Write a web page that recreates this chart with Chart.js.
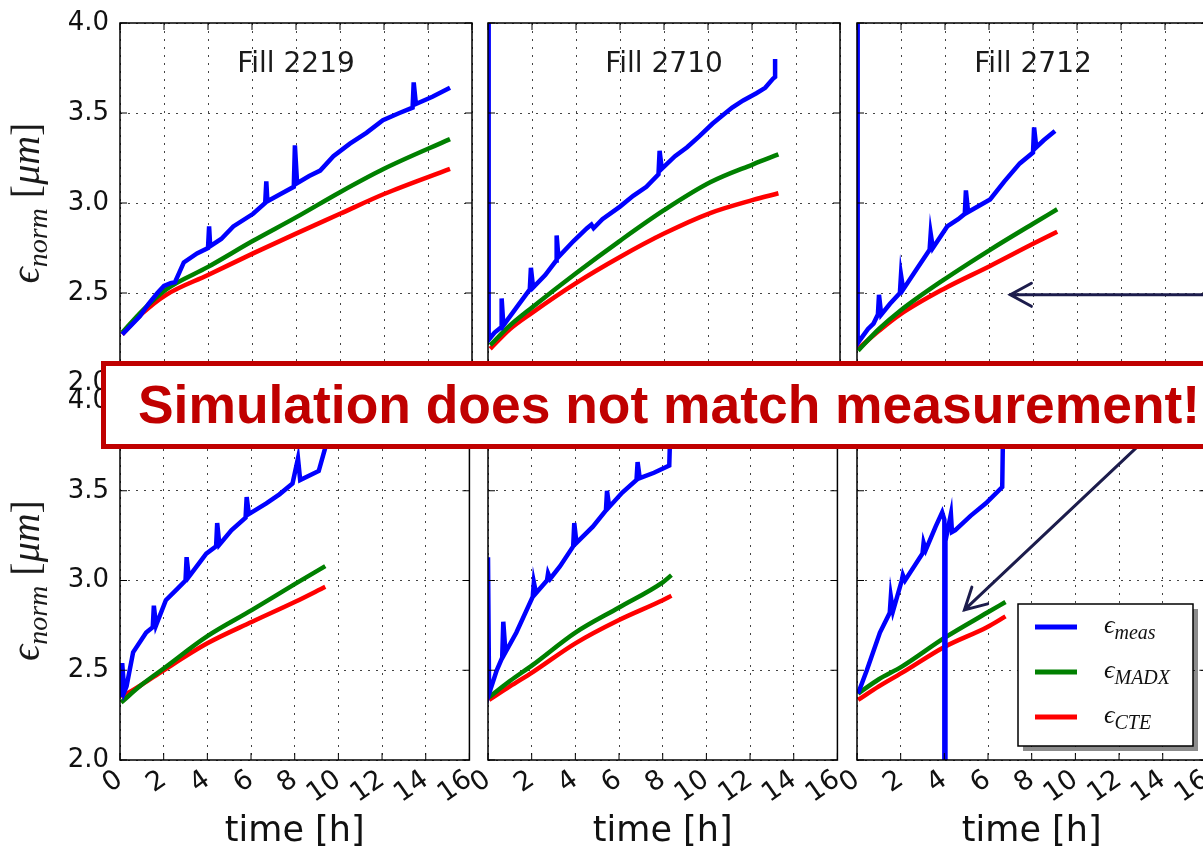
<!DOCTYPE html>
<html lang="en">
<head>
    <meta charset="UTF-8">
    <title>Emittance growth: measurement vs simulation</title>
    <script src="https://cdn.jsdelivr.net/npm/chart.js"></script>
    <style>
        body { margin: 0; background: #fff; }
        #wrap { position: relative; width: 1203px; height: 849px; overflow: hidden; background: #fff; }
        #wrap canvas { position: absolute; }
        #callout {
            position: absolute; left: 101px; top: 361px; width: 1150px; height: 78px;
            border: 5px solid #c00000; background: #fff; color: #c00000;
            font: bold 53.4px "Liberation Sans", Arial, sans-serif; line-height: 78px;
            padding-left: 32px; white-space: nowrap; z-index: 5;
        }
    </style>
</head>
<body>
<div id="wrap">
    <div id="callout">Simulation does not match measurement!</div>
</div>

<script>
    const fills = ['Fill 2219', 'Fill 2710', 'Fill 2712'];
    const seriesLabels = ['ϵ_meas', 'ϵ_MADX', 'ϵ_CTE'];
    const seriesColors = ['#0000ff', '#008000', '#ff0000'];
    const xTitle = 'time [h]';

    // top row  [time h, emittance um]
    const meas2219 = [[0.1,2.27],[0.5,2.32],[0.9,2.37],[1.3,2.44],[1.7,2.5],[2.0,2.54],[2.3,2.555],[2.5,2.56],[2.9,2.67],[3.5,2.72],[4.0,2.75],[4.05,2.87],[4.1,2.76],[4.6,2.8],[5.15,2.87],[6.05,2.94],[6.6,3.0],[6.65,3.12],[6.7,3.01],[7.3,3.05],[7.9,3.09],[7.95,3.32],[8.05,3.11],[8.6,3.15],[9.1,3.18],[9.7,3.26],[10.45,3.33],[11.2,3.39],[11.95,3.46],[12.7,3.5],[13.3,3.53],[13.35,3.67],[13.45,3.55],[14.2,3.59],[15.0,3.64]];
    const madx2219 = [[0.1,2.28],[1,2.4],[2.1,2.52],[4,2.645],[6.05,2.79],[8,2.92],[10,3.06],[12,3.19],[15,3.355]];
    const cte2219  = [[0.1,2.27],[1,2.385],[2.1,2.49],[4,2.6],[6.05,2.72],[8,2.83],[10,2.94],[12,3.05],[15,3.19]];

    const meas2710 = [[0,4.5],[0.03,2.24],[0.3,2.28],[0.6,2.31],[0.62,2.47],[0.7,2.32],[1.3,2.42],[1.9,2.52],[1.95,2.64],[2.05,2.53],[2.6,2.6],[3.1,2.68],[3.12,2.82],[3.2,2.7],[3.9,2.79],[4.5,2.86],[4.7,2.88],[4.8,2.86],[5.2,2.91],[6.0,2.98],[6.6,3.04],[7.2,3.09],[7.75,3.16],[7.8,3.29],[7.9,3.19],[8.5,3.26],[9.05,3.31],[9.6,3.37],[10.2,3.44],[10.6,3.48],[11.1,3.53],[11.6,3.57],[12.2,3.61],[12.6,3.64],[12.95,3.69],[13.05,3.7],[13.05,3.8]];
    const madx2710 = [[0.1,2.21],[1,2.32],[2,2.42],[4,2.61],[6,2.79],[8,2.96],[10.1,3.115],[12.05,3.215],[13.2,3.27]];
    const cte2710  = [[0.1,2.19],[1,2.3],[2,2.39],[4,2.555],[6,2.7],[8,2.83],[10.1,2.944],[12.05,3.017],[13.2,3.054]];

    const meas2712 = [[0,4.5],[0.03,2.22],[0.14,2.24],[0.5,2.3],[0.75,2.33],[0.95,2.38],[1.0,2.49],[1.1,2.38],[1.5,2.44],[1.95,2.5],[2.0,2.6],[2.1,2.52],[2.7,2.63],[3.3,2.74],[3.35,2.83],[3.45,2.75],[4.1,2.87],[4.6,2.91],[4.9,2.94],[4.95,3.07],[5.05,2.95],[6.05,3.02],[6.7,3.12],[7.4,3.22],[8.0,3.28],[8.05,3.42],[8.15,3.31],[8.5,3.35],[9.0,3.4]];
    const madx2712 = [[0.05,2.18],[1,2.3],[1.95,2.4],[3.9,2.57],[6.05,2.74],[8,2.885],[9.1,2.965]];
    const cte2712  = [[0.05,2.19],[1,2.29],[1.95,2.38],[3.9,2.52],[6.05,2.65],[8,2.773],[9.1,2.84]];

    // bottom row
    const meas2219b = [[0.05,2.35],[0.1,2.54],[0.2,2.38],[0.3,2.41],[0.6,2.6],[1.2,2.71],[1.5,2.74],[1.55,2.86],[1.65,2.75],[2.1,2.89],[2.6,2.95],[3.0,3.0],[3.05,3.13],[3.15,3.02],[3.95,3.15],[4.4,3.19],[4.45,3.32],[4.55,3.2],[5.1,3.28],[5.75,3.35],[5.8,3.465],[5.9,3.37],[6.7,3.43],[7.3,3.48],[7.9,3.54],[8.15,3.68],[8.25,3.56],[9.1,3.61],[9.4,3.74],[9.6,3.9]];
    const madx2219b = [[0.05,2.32],[1,2.42],[2,2.51],[4,2.69],[6.05,2.836],[8,2.98],[9.4,3.08]];
    const cte2219b  = [[0.05,2.35],[1,2.42],[2,2.5],[4,2.65],[6.05,2.77],[8,2.88],[9.4,2.965]];

    const meas2710b = [[0,3.13],[0.05,2.37],[0.4,2.5],[0.65,2.57],[0.7,2.77],[0.8,2.6],[1.3,2.71],[2.05,2.91],[2.1,2.99],[2.2,2.93],[2.7,3.0],[2.75,3.04],[2.85,3.01],[3.3,3.08],[3.9,3.19],[3.95,3.32],[4.05,3.21],[4.8,3.3],[5.4,3.39],[5.45,3.5],[5.55,3.41],[6.15,3.49],[6.8,3.56],[6.85,3.66],[6.95,3.57],[7.6,3.6],[8.3,3.64],[8.35,3.85]];
    const madx2710b = [[0.05,2.35],[1,2.44],[2.05,2.53],[4,2.71],[6,2.85],[8,2.99],[8.4,3.03]];
    const cte2710b  = [[0.05,2.335],[1,2.41],[2.05,2.49],[4,2.65],[6,2.78],[8,2.89],[8.4,2.915]];

    const meas2712b = [[0.05,2.37],[0.45,2.5],[1.05,2.71],[1.5,2.82],[1.55,2.91],[1.65,2.83],[2.05,3.0],[2.1,3.03],[2.2,3.0],[3.0,3.15],[3.05,3.21],[3.15,3.17],[3.6,3.3],[3.9,3.38],[4.0,3.34],[4.0,1.9],[4.05,1.9],[4.05,3.22],[4.3,3.37],[4.35,3.27],[4.5,3.28],[5.2,3.36],[5.9,3.43],[6.65,3.52],[6.7,3.95]];
    const madx2712b = [[0.05,2.37],[1,2.45],[2.05,2.52],[4,2.68],[5.95,2.82],[6.8,2.88]];
    const cte2712b  = [[0.05,2.335],[1,2.41],[2.05,2.485],[4,2.63],[5.95,2.74],[6.8,2.8]];

    // annotation arrows, in data units of the right-hand panels
    const arrowTop = { from: [16.5, 2.49], to: [6.97, 2.49] };
    const arrowBottom = { from: [14.97, 3.99], to: [4.92, 2.836] };

    const panels = [
        { row: 0, col: 0, title: fills[0], data: [meas2219, madx2219, cte2219] },
        { row: 0, col: 1, title: fills[1], data: [meas2710, madx2710, cte2710] },
        { row: 0, col: 2, title: fills[2], data: [meas2712, madx2712, cte2712], arrow: arrowTop },
        { row: 1, col: 0, data: [meas2219b, madx2219b, cte2219b] },
        { row: 1, col: 1, data: [meas2710b, madx2710b, cte2710b] },
        { row: 1, col: 2, data: [meas2712b, madx2712b, cte2712b], arrow: arrowBottom, legend: true }
    ];

    const colLeft = [120, 488, 857];
    const rowTop = [23, 401];
    const plotW = 352;
    const plotH = [360, 359];
    const sans = '"DejaVu Sans", sans-serif';
    const serif = '"Liberation Serif", "DejaVu Serif", serif';

    // draws text with a subscript part, e.g. ϵ_norm
    function drawMath(ctx, parts, x, y, align) {
        let total = 0;
        parts.forEach(p => { ctx.font = p.font; p.w = ctx.measureText(p.text).width; total += p.w; });
        let cx = align === 'center' ? x - total / 2 : x;
        ctx.textBaseline = 'alphabetic';
        ctx.textAlign = 'left';
        parts.forEach(p => {
            ctx.font = p.font;
            ctx.fillText(p.text, cx, y + (p.dy || 0));
            cx += p.w;
        });
    }

    function subParts(label, big, small, dy) {
        const [main, sub] = label.split('_');
        return [
            { text: main, font: 'italic ' + big + 'px ' + serif },
            { text: sub, font: 'italic ' + small + 'px ' + serif, dy: dy }
        ];
    }

    const panelPlugin = {
        id: 'panelDeco',
        afterDatasetsDraw(chart, args, opts) {
            const ctx = chart.ctx;
            const a = chart.chartArea;
            const xs = chart.scales.x, ys = chart.scales.y;
            ctx.save();
            // frame with inward ticks
            ctx.strokeStyle = '#000';
            ctx.lineWidth = 1.5;
            ctx.strokeRect(a.left, a.top, a.right - a.left, a.bottom - a.top);
            ctx.lineWidth = 1;
            ctx.beginPath();
            xs.ticks.forEach(t => {
                const px = xs.getPixelForValue(t.value);
                ctx.moveTo(px, a.bottom); ctx.lineTo(px, a.bottom - 7);
                ctx.moveTo(px, a.top); ctx.lineTo(px, a.top + 7);
            });
            ys.ticks.forEach(t => {
                const py = ys.getPixelForValue(t.value);
                ctx.moveTo(a.left, py); ctx.lineTo(a.left + 7, py);
                ctx.moveTo(a.right, py); ctx.lineTo(a.right - 7, py);
            });
            ctx.stroke();

            const p = opts.panel;
            ctx.fillStyle = '#1a1a1a';
            if (p.title) {
                ctx.font = '28px ' + sans;
                ctx.textAlign = 'center';
                ctx.textBaseline = 'middle';
                ctx.fillText(p.title, (a.left + a.right) / 2, ys.getPixelForValue(3.77));
            }
            if (p.col === 0) {
                ctx.save();
                ctx.translate(39, (a.top + a.bottom) / 2);
                ctx.rotate(-Math.PI / 2);
                drawMath(ctx, [
                    { text: 'ϵ', font: 'italic 40px ' + serif },
                    { text: 'norm', font: 'italic 28px ' + serif, dy: 8 },
                    { text: ' [', font: '40px ' + serif },
                    { text: 'μm', font: 'italic 40px ' + serif },
                    { text: ']', font: '40px ' + serif }
                ], 0, 0, 'center');
                ctx.restore();
            }
            if (p.arrow) {
                const x1 = xs.getPixelForValue(p.arrow.from[0]), y1 = ys.getPixelForValue(p.arrow.from[1]);
                const x2 = xs.getPixelForValue(p.arrow.to[0]), y2 = ys.getPixelForValue(p.arrow.to[1]);
                const ang = Math.atan2(y1 - y2, x1 - x2);
                ctx.strokeStyle = '#1c1c4c';
                ctx.lineWidth = 3;
                ctx.lineCap = 'round';
                ctx.beginPath();
                ctx.moveTo(x1, y1); ctx.lineTo(x2, y2);
                ctx.moveTo(x2 + 24 * Math.cos(ang + 0.5), y2 + 24 * Math.sin(ang + 0.5));
                ctx.lineTo(x2, y2);
                ctx.lineTo(x2 + 24 * Math.cos(ang - 0.5), y2 + 24 * Math.sin(ang - 0.5));
                ctx.stroke();
            }
            if (p.legend) {
                const lx = a.left + 161, ly = a.top + 203, lw = 175, lh = 142;
                ctx.fillStyle = 'rgba(0,0,0,0.45)';
                ctx.fillRect(lx + 5, ly + 5, lw, lh);
                ctx.fillStyle = '#fff';
                ctx.fillRect(lx, ly, lw, lh);
                ctx.strokeStyle = '#000';
                ctx.lineWidth = 1.5;
                ctx.strokeRect(lx, ly, lw, lh);
                chart.data.datasets.forEach((ds, k) => {
                    const yy = ly + 23 + k * 45;
                    ctx.strokeStyle = ds.borderColor;
                    ctx.lineWidth = 5;
                    ctx.lineCap = 'butt';
                    ctx.beginPath();
                    ctx.moveTo(lx + 17, yy); ctx.lineTo(lx + 59, yy);
                    ctx.stroke();
                    ctx.fillStyle = '#111';
                    drawMath(ctx, subParts(ds.label, 26, 20, 6), lx + 86, yy + 6, 'left');
                });
            }
            ctx.restore();
        }
    };

    const wrap = document.getElementById('wrap');
    const callout = document.getElementById('callout');

    panels.forEach(p => {
        const padL = p.col === 0 ? 120 : 40;
        const padR = 20;
        const padT = p.row === 0 ? 23 : 24;
        const padB = p.row === 0 ? 24 : 849 - (rowTop[1] + plotH[1]);
        const cv = document.createElement('canvas');
        cv.width = padL + plotW + padR;
        cv.height = padT + plotH[p.row] + padB;
        cv.style.left = (colLeft[p.col] - padL) + 'px';
        cv.style.top = (rowTop[p.row] - padT) + 'px';
        wrap.insertBefore(cv, callout);

        new Chart(cv, {
            type: 'line',
            data: {
                datasets: p.data.map((pts, k) => ({
                    label: seriesLabels[k],
                    data: pts.map(([t, e]) => ({ x: t, y: e })),
                    borderColor: seriesColors[k],
                    borderWidth: 4.5,
                    pointRadius: 0,
                    fill: false,
                    tension: k === 0 ? 0 : 0.4,
                    cubicInterpolationMode: k === 0 ? 'default' : 'monotone',
                    clip: 0
                }))
            },
            options: {
                responsive: false,
                animation: false,
                devicePixelRatio: 1,
                layout: { padding: { left: 0, right: padR, top: padT, bottom: 0 } },
                plugins: {
                    legend: { display: false },
                    tooltip: { enabled: false },
                    panelDeco: { panel: p }
                },
                scales: {
                    x: {
                        type: 'linear', min: 0, max: 16,
                        ticks: {
                            stepSize: 2, autoSkip: false, display: p.row === 1,
                            minRotation: 35, maxRotation: 35, padding: 4,
                            color: '#111', font: { family: sans, size: 27 }
                        },
                        grid: { color: '#444', lineWidth: 1, drawTicks: false },
                        border: { display: false, dash: [2, 6] },
                        title: {
                            display: p.row === 1, text: xTitle, color: '#111',
                            font: { family: sans, size: 35, lineHeight: 1 }, padding: 0
                        },
                        afterFit: s => { s.height = padB; }
                    },
                    y: {
                        min: 2, max: 4,
                        ticks: {
                            stepSize: 0.5, display: p.col === 0, padding: 11,
                            color: '#111', font: { family: sans, size: 26, lineHeight: 0.85 },
                            callback: v => v.toFixed(1)
                        },
                        grid: { color: '#444', lineWidth: 1, drawTicks: false },
                        border: { display: false, dash: [2, 6] },
                        afterFit: s => { s.width = padL; }
                    }
                }
            },
            plugins: [panelPlugin]
        });
    });
</script>
</body>
</html>
